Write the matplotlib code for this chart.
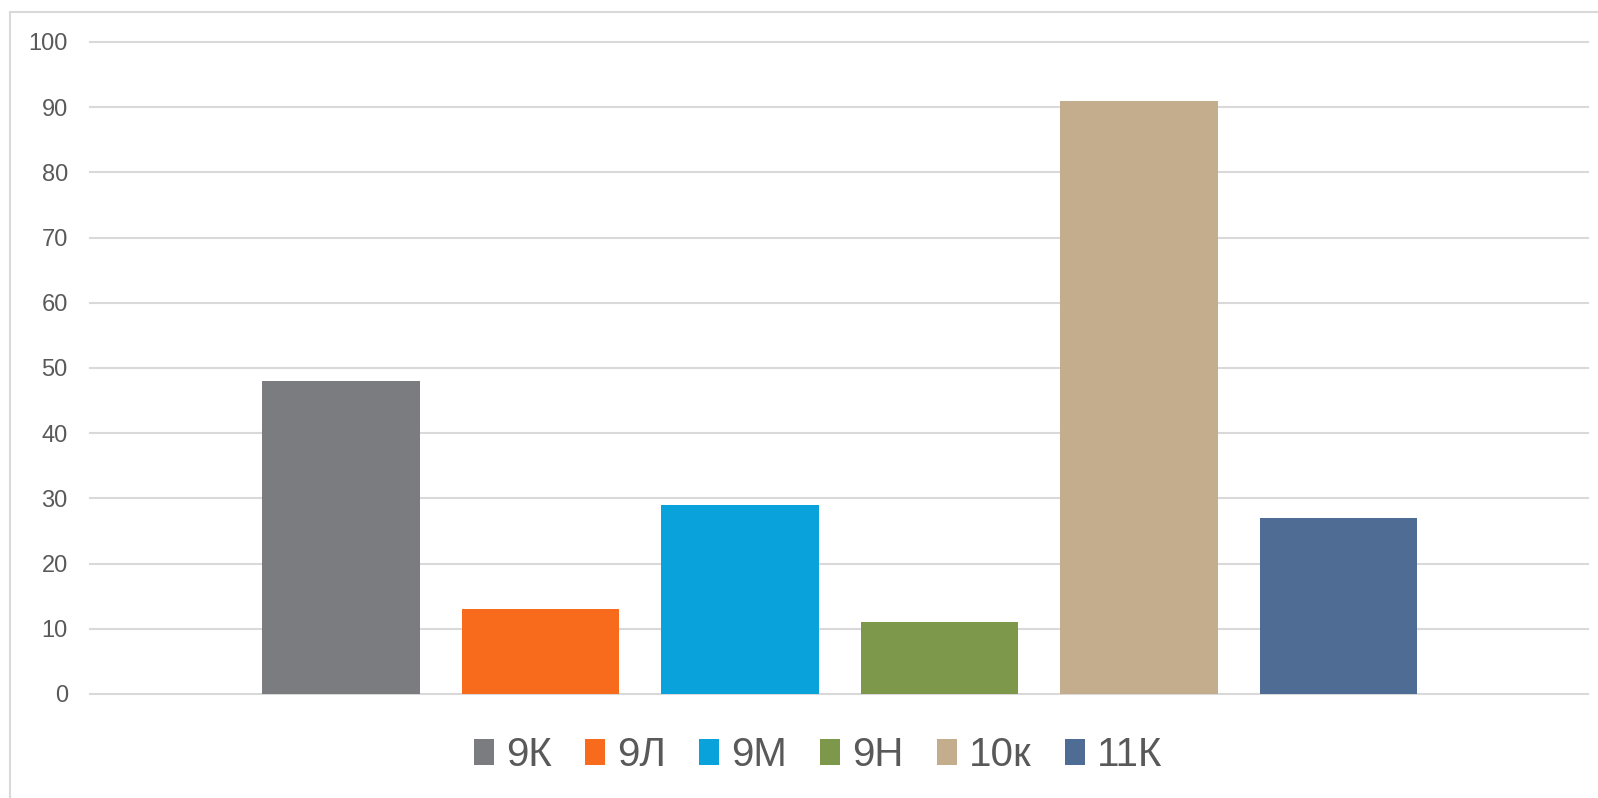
import matplotlib
matplotlib.use("Agg")
import matplotlib.pyplot as plt
from matplotlib.patches import Rectangle

# данные
classes = ["9К", "9Л", "9М", "9Н", "10к", "11К"]
values = [48, 13, 29, 11, 91, 27]
colors = ["#7B7C80", "#F96B1C", "#0AA2DA", "#7D984A", "#C4AD8C", "#4F6D94"]
y_ticks = [0, 10, 20, 30, 40, 50, 60, 70, 80, 90, 100]

plt.rcParams["font.family"] = ["Liberation Sans", "DejaVu Sans"]
text_color = "#595959"
grid_color = "#D9D9D9"

fig = plt.figure(figsize=(15.98, 7.98), dpi=100)
fig.patch.set_facecolor("white")

# рамка диаграммы (обрезана справа и снизу)
fig.patches.append(
    Rectangle((9.5 / 1598, -0.1), 1.2, 1 - 11.5 / 798 + 0.1,
              transform=fig.transFigure, fill=False,
              edgecolor=grid_color, linewidth=1.5)
)

ax = fig.add_axes([90 / 1598, 1 - 694 / 798, 1498 / 1598, 652 / 798])

for i, (name, val, col) in enumerate(zip(classes, values, colors)):
    ax.bar(i, val, width=0.79, color=col, label=name, zorder=3)

ax.set_xlim(-1.259, 6.251)
ax.set_ylim(0, 100)
ax.set_yticks(y_ticks)
ax.set_xticks([])
ax.yaxis.grid(True, color=grid_color, linewidth=1.5, zorder=0)
for gl in ax.yaxis.get_gridlines():
    gl.set_clip_on(False)
ax.tick_params(axis="y", length=0, pad=16, labelsize=17, labelcolor=text_color)
for s in ax.spines.values():
    s.set_visible(False)

leg = fig.legend(
    loc="center", bbox_to_anchor=(0.512, 1 - 755 / 798), ncol=6, frameon=False,
    fontsize=29, handlelength=0.5, handleheight=0.6, handletextpad=0.3,
    columnspacing=0.82,
)
for t in leg.get_texts():
    t.set_color(text_color)

fig.savefig("out.png", dpi=100, facecolor="white")
